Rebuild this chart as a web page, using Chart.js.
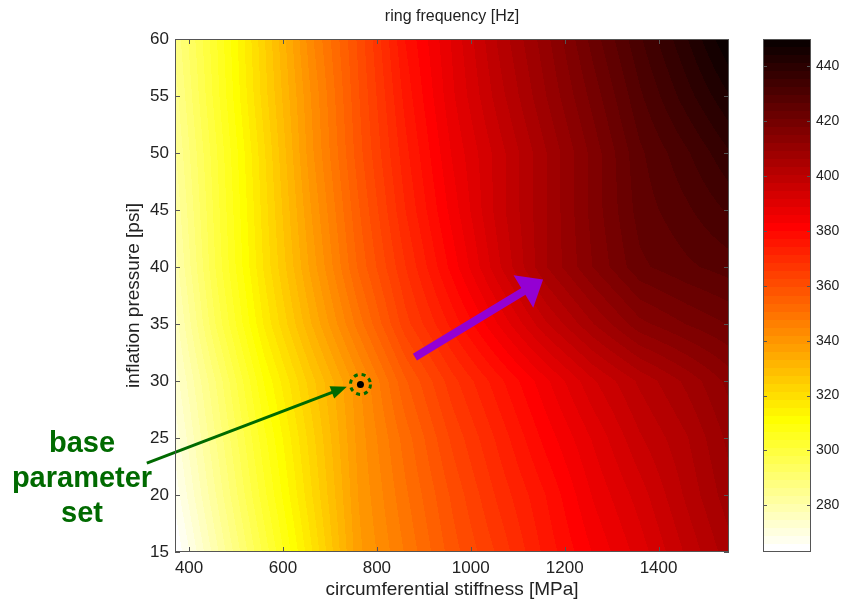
<!DOCTYPE html>
<html>
<head>
<meta charset="utf-8">
<title>ring frequency</title>
<script src="https://cdn.jsdelivr.net/npm/chart.js@4.4.1/dist/chart.umd.min.js"></script>
<style>
  body { margin: 0; background: #fff; }
  #wrap { position: relative; width: 842px; height: 602px; }
  #wrap canvas { position: absolute; top: 0; }
  #heat { left: 0; }
  #cbar { left: 740px; }
</style>
</head>
<body>
<div id="wrap">
  <canvas id="heat" width="842" height="602"></canvas>
  <canvas id="cbar" width="102" height="602"></canvas>
</div>
<script>
Chart.defaults.font.family = "'Liberation Sans', Arial, sans-serif";
Chart.defaults.color = '#222';
Chart.defaults.animation = false;

// grid of the parameter sweep
const stiffness = [370, 460, 560, 660, 760, 860, 960, 1060, 1160, 1260, 1360, 1460, 1550];   // MPa
const pressure = [15, 20, 25, 30, 35, 40, 45, 50, 55, 60];                                      // psi

// ring frequency [Hz], one row per pressure, one column per stiffness
const freqRows = [
    [263, 280, 299, 318, 338, 348, 358, 366, 375, 383, 390, 398, 405],
    [267, 284, 303, 321, 339, 350, 360, 369, 377, 386, 393, 401, 408],
    [270, 287, 306, 323, 340, 352, 363, 372, 381, 389, 397, 403, 410],
    [273, 290, 310, 326, 341, 356, 367, 376, 385, 394, 401, 407, 413],
    [276, 296, 316, 333, 349, 364, 375, 386, 397, 406, 414, 418, 421],
    [279, 299, 319, 337, 354, 368, 381, 394, 406, 415, 423, 426, 428],
    [281, 300, 320, 339, 356, 371, 384, 396, 406, 416, 425, 429, 433],
    [283, 301, 321, 341, 358, 373, 386, 396, 406, 416, 426, 432, 438],
    [285, 303, 323, 342, 359, 375, 388, 399, 409, 419, 429, 437, 444],
    [287, 304, 324, 344, 360, 377, 389, 401, 411, 422, 432, 441, 450]
];

const stiffnessTicks = [400, 600, 800, 1000, 1200, 1400];
const pressureTicks = [15, 20, 25, 30, 35, 40, 45, 50, 55, 60];
const freqTicks = [280, 300, 320, 340, 360, 380, 400, 420, 440];
const freqMin = 263;
const freqMax = 450;

const baseStiffness = [765];
const basePressure = [29.7];

// flipped "hot" map, 64 steps: white -> yellow -> red -> black
const hotFlipped = [];
for (let k = 64; k >= 1; k--) {
    const r = Math.min(1, k / 24);
    const g = Math.min(1, Math.max(0, (k - 24) / 24));
    const b = Math.max(0, (k - 48) / 16);
    hotFlipped.push([Math.round(r * 255), Math.round(g * 255), Math.round(b * 255)]);
}

function colourOf(v) {
    let k = Math.floor((v - freqMin) / (freqMax - freqMin) * 64);
    k = Math.max(0, Math.min(63, k));
    return hotFlipped[k];
}

function cellOf(nodes, v) {
    let i = 0;
    while (i < nodes.length - 2 && v > nodes[i + 1]) i++;
    const t = (v - nodes[i]) / (nodes[i + 1] - nodes[i]);
    return [i, Math.max(0, Math.min(1, t))];
}

function tickAxis(val) { return {value: val}; }
function plainLabel(val) { return String(val); }

// interpolated surface under the datasets
const heatLayer = {
    id: 'heatLayer',
    beforeDatasetsDraw(chart) {
        const {ctx, chartArea: a, scales: {x, y}} = chart;
        const w = Math.round(a.right - a.left);
        const h = Math.round(a.bottom - a.top);
        const img = ctx.createImageData(w, h);
        for (let j = 0; j < h; j++) {
            const [r, tr] = cellOf(pressure, y.getValueForPixel(a.top + j + 0.5));
            for (let i = 0; i < w; i++) {
                const [c, tc] = cellOf(stiffness, x.getValueForPixel(a.left + i + 0.5));
                const lo = freqRows[r][c] * (1 - tc) + freqRows[r][c + 1] * tc;
                const hi = freqRows[r + 1][c] * (1 - tc) + freqRows[r + 1][c + 1] * tc;
                const col = colourOf(lo * (1 - tr) + hi * tr);
                const o = (j * w + i) * 4;
                img.data[o] = col[0];
                img.data[o + 1] = col[1];
                img.data[o + 2] = col[2];
                img.data[o + 3] = 255;
            }
        }
        ctx.putImageData(img, Math.round(a.left), Math.round(a.top));
    }
};

function arrow(ctx, x0, y0, x1, y1, width, headLen, headW, colour) {
    const len = Math.hypot(x1 - x0, y1 - y0);
    ctx.save();
    ctx.translate(x0, y0);
    ctx.rotate(Math.atan2(y1 - y0, x1 - x0));
    ctx.fillStyle = colour;
    ctx.fillRect(0, -width / 2, len - headLen + 1, width);
    ctx.beginPath();
    ctx.moveTo(len, 0);
    ctx.lineTo(len - headLen, -headW / 2);
    ctx.lineTo(len - headLen, headW / 2);
    ctx.closePath();
    ctx.fill();
    ctx.restore();
}

// box, inward ticks, arrows and the label for the base point
const overlay = {
    id: 'overlay',
    afterDatasetsDraw(chart) {
        const {ctx, chartArea: a, scales: {x, y}} = chart;
        ctx.save();

        const green = '#006a00';
        const bx = x.getPixelForValue(baseStiffness[0]);
        const by = y.getPixelForValue(basePressure[0]);
        ctx.strokeStyle = green;
        ctx.lineWidth = 3;
        ctx.setLineDash([4, 4]);
        ctx.beginPath();
        ctx.arc(bx, by, 10, 0, Math.PI * 2);
        ctx.stroke();
        ctx.setLineDash([]);

        arrow(ctx, x.getPixelForValue(310), y.getPixelForValue(22.8),
              x.getPixelForValue(736), y.getPixelForValue(29.5), 3, 16, 13, green);
        arrow(ctx, x.getPixelForValue(881), y.getPixelForValue(32.1),
              x.getPixelForValue(1154), y.getPixelForValue(38.9), 8, 23, 38, '#9400d3');

        ctx.fillStyle = green;
        ctx.font = "bold 29px 'Liberation Sans', Arial, sans-serif";
        ctx.textAlign = 'center';
        ctx.textBaseline = 'alphabetic';
        ctx.fillText('base', 82, 452);
        ctx.fillText('parameter', 82, 487);
        ctx.fillText('set', 82, 522);

        ctx.strokeStyle = '#555';
        ctx.lineWidth = 1;
        ctx.beginPath();
        for (const t of stiffnessTicks) {
            const px = Math.round(x.getPixelForValue(t)) + 0.5;
            ctx.moveTo(px, a.bottom); ctx.lineTo(px, a.bottom - 5);
            ctx.moveTo(px, a.top); ctx.lineTo(px, a.top + 5);
        }
        for (const t of pressureTicks) {
            const py = Math.round(y.getPixelForValue(t)) + 0.5;
            ctx.moveTo(a.left, py); ctx.lineTo(a.left + 5, py);
            ctx.moveTo(a.right, py); ctx.lineTo(a.right - 5, py);
        }
        ctx.stroke();
        ctx.strokeRect(Math.round(a.left) + 0.5, Math.round(a.top) + 0.5,
                       Math.round(a.right - a.left) - 1, Math.round(a.bottom - a.top) - 1);
        ctx.restore();
    }
};

new Chart(document.getElementById('heat'), {
    type: 'scatter',
    data: {
        datasets: [{
            data: [{x: baseStiffness[0], y: basePressure[0]}],
            pointRadius: 3.5,
            pointBackgroundColor: '#000',
            pointBorderWidth: 0
        }]
    },
    options: {
        responsive: false,
        layout: {padding: {left: 0, right: 113, top: 0, bottom: 0}},
        plugins: {
            legend: {display: false},
            tooltip: {enabled: false}
        },
        scales: {
            x: {
                type: 'linear',
                min: 370,
                max: 1550,
                afterBuildTicks: s => { s.ticks = stiffnessTicks.map(tickAxis); },
                afterFit: s => { s.height = 50; },
                grid: {display: false, drawTicks: false},
                border: {display: false},
                ticks: {padding: 6, font: {size: 17}, callback: plainLabel},
                title: {display: true, text: 'circumferential stiffness [MPa]', font: {size: 19}, padding: {top: 0, bottom: 1}}
            },
            // top axis only carries the title, centred over the surface
            xTop: {
                type: 'linear',
                position: 'top',
                min: 370,
                max: 1550,
                afterFit: s => { s.height = 39; },
                grid: {display: false, drawTicks: false},
                border: {display: false},
                ticks: {display: false},
                title: {display: true, text: 'ring frequency [Hz]', color: '#222', font: {size: 16}, padding: {top: 7, bottom: 0}}
            },
            y: {
                type: 'linear',
                min: 15,
                max: 60,
                afterBuildTicks: s => { s.ticks = pressureTicks.map(tickAxis); },
                afterFit: s => { s.width = 175; },
                grid: {display: false, drawTicks: false},
                border: {display: false},
                ticks: {padding: 6, font: {size: 17}, callback: plainLabel},
                title: {display: true, text: 'inflation pressure [psi]', font: {size: 19}, padding: {top: 122, bottom: 0}}
            }
        }
    },
    plugins: [heatLayer, overlay]
});

// colour bar on its own canvas, right of the surface
const colourBar = {
    id: 'colourBar',
    beforeDatasetsDraw(chart) {
        const {ctx, chartArea: a, scales: {y}} = chart;
        ctx.save();
        const left = Math.round(a.left);
        const right = Math.round(a.right);
        for (let k = 0; k < 64; k++) {
            const y0 = Math.round(y.getPixelForValue(freqMin + (freqMax - freqMin) * k / 64));
            const y1 = Math.round(y.getPixelForValue(freqMin + (freqMax - freqMin) * (k + 1) / 64));
            ctx.fillStyle = 'rgb(' + hotFlipped[k].join(',') + ')';
            ctx.fillRect(left, y1, right - left, y0 - y1);
        }
        ctx.strokeStyle = '#555';
        ctx.lineWidth = 1;
        ctx.beginPath();
        for (const t of freqTicks) {
            const py = Math.round(y.getPixelForValue(t)) + 0.5;
            ctx.moveTo(left, py); ctx.lineTo(left + 4, py);
            ctx.moveTo(right, py); ctx.lineTo(right - 4, py);
        }
        ctx.stroke();
        ctx.strokeRect(left + 0.5, Math.round(a.top) + 0.5, right - left - 1, Math.round(a.bottom - a.top) - 1);
        ctx.restore();
    }
};

new Chart(document.getElementById('cbar'), {
    type: 'scatter',
    data: {datasets: [{data: []}]},
    options: {
        responsive: false,
        layout: {padding: {left: 23, top: 39, bottom: 50, right: 0}},
        plugins: {legend: {display: false}, tooltip: {enabled: false}},
        scales: {
            x: {display: false, min: 0, max: 1},
            y: {
                position: 'right',
                min: freqMin,
                max: freqMax,
                afterBuildTicks: s => { s.ticks = freqTicks.map(tickAxis); },
                afterFit: s => { s.width = 31; },
                grid: {display: false, drawTicks: false},
                border: {display: false},
                ticks: {padding: 5, font: {size: 14}, callback: plainLabel}
            }
        }
    },
    plugins: [colourBar]
});
</script>
</body>
</html>
